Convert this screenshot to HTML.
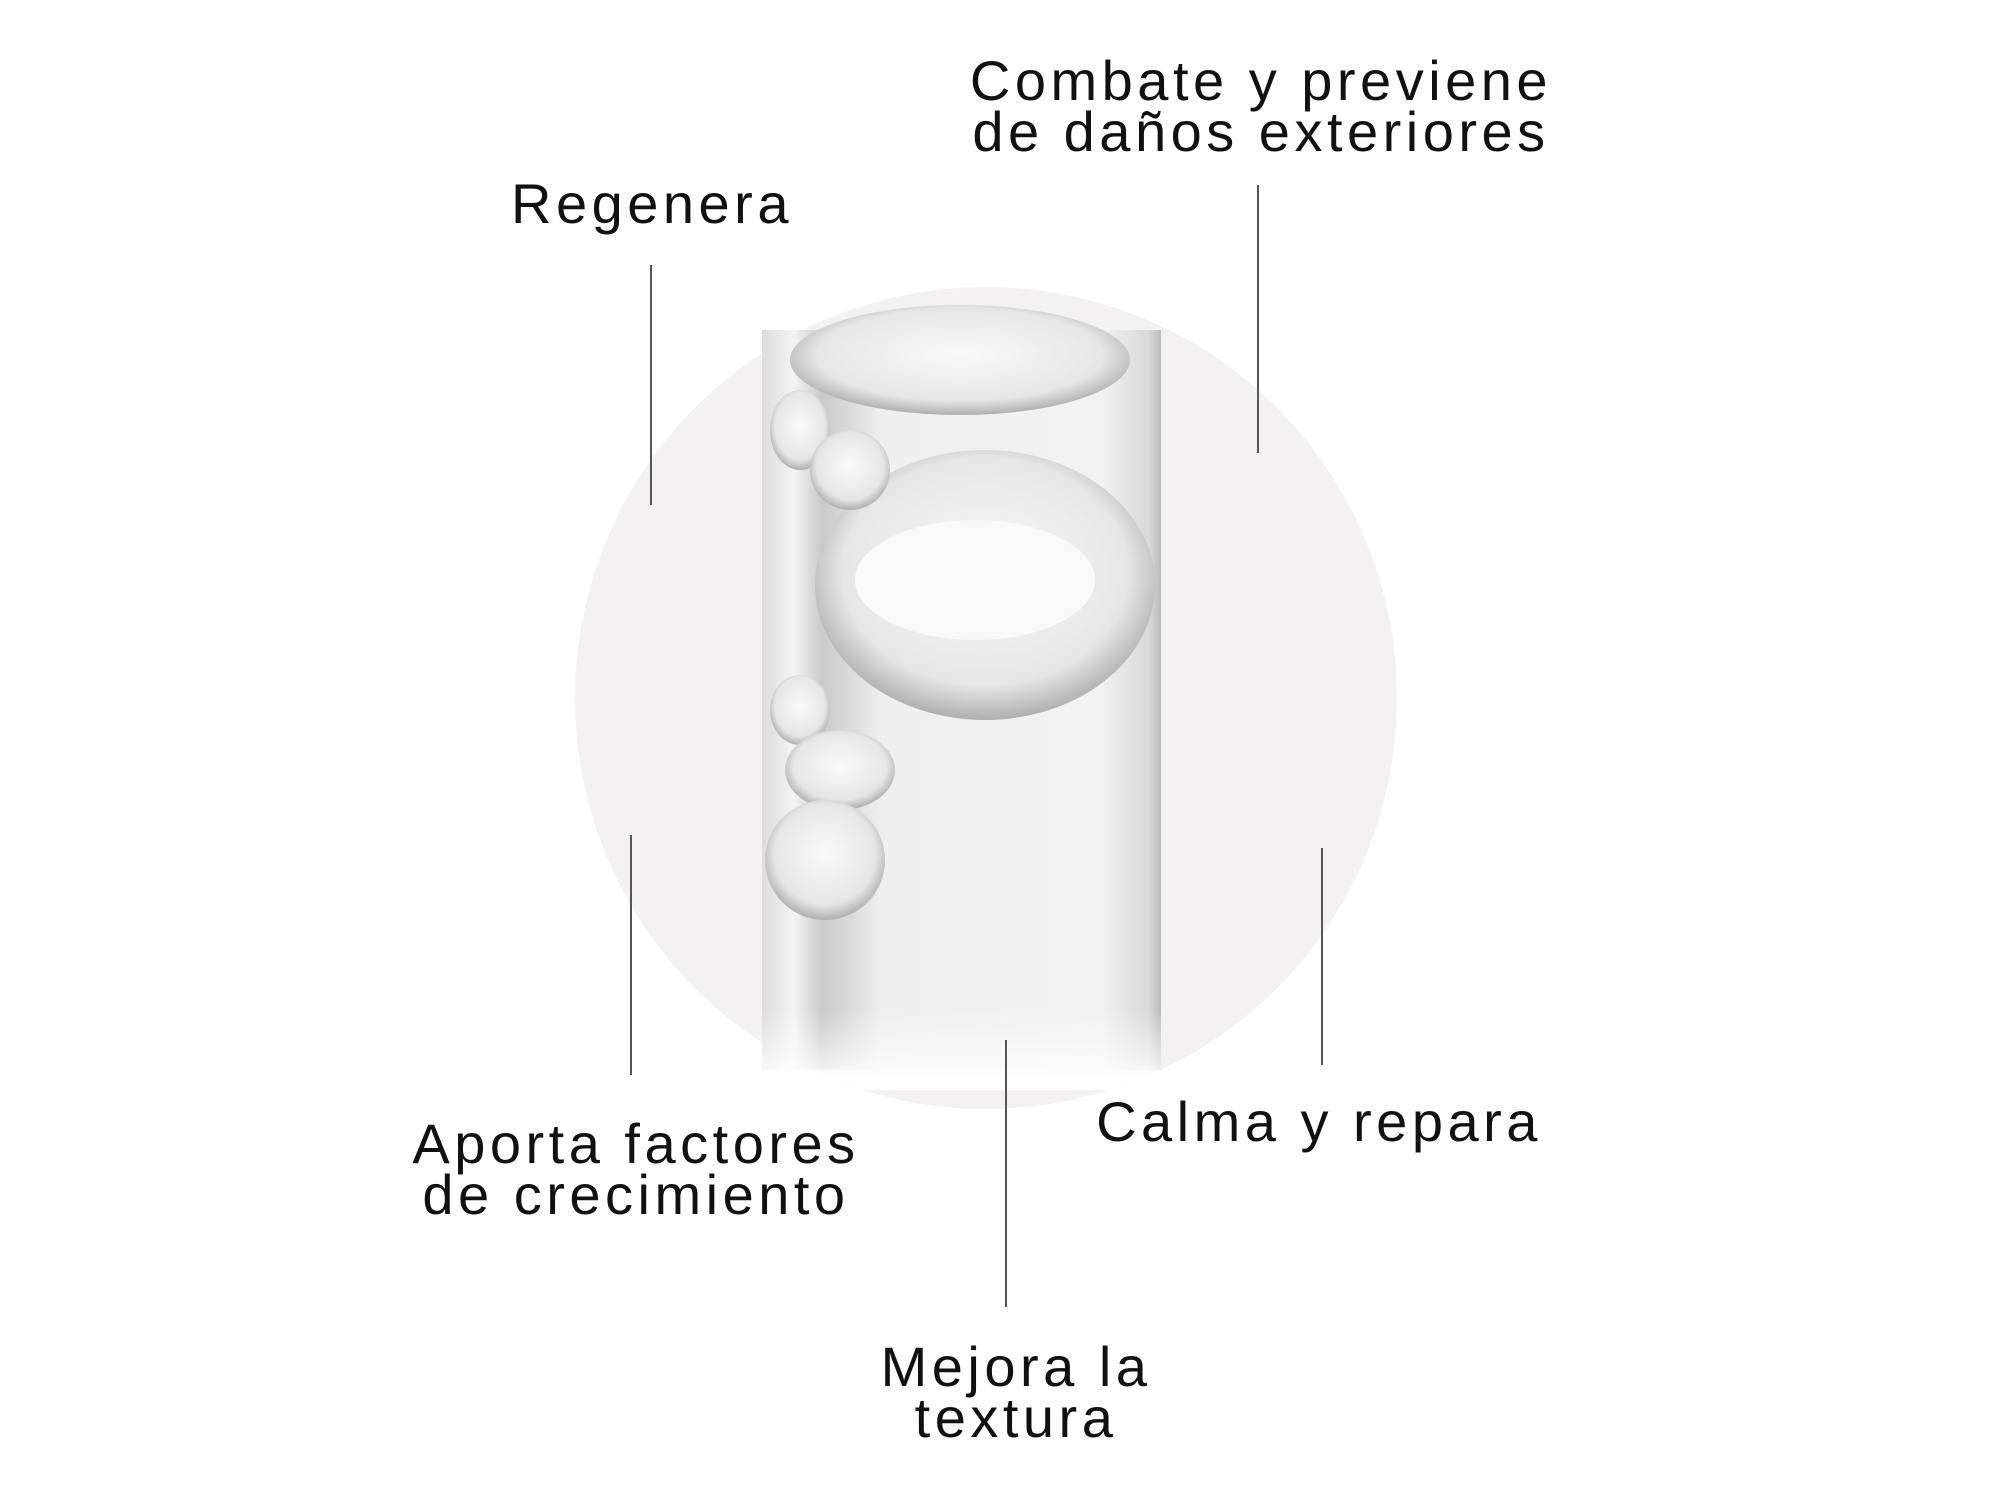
<!DOCTYPE html>
<html><head><meta charset="utf-8"><style>
html,body{margin:0;padding:0;background:#fff;}
body{width:2000px;height:1501px;position:relative;overflow:hidden;font-family:"Liberation Sans",sans-serif;color:#111;}
.t{position:absolute;font-size:56px;line-height:51px;text-align:center;white-space:nowrap;letter-spacing:4.5px;transform:translateX(-50%);}
.l{position:absolute;width:2px;background:#555;}
</style></head><body>
<svg width="2000" height="1501" style="position:absolute;left:0;top:0">
<defs>
<linearGradient id="tube" x1="0" x2="1" y1="0" y2="0">
<stop offset="0" stop-color="#dcdcdc"/><stop offset="0.08" stop-color="#f4f4f4"/>
<stop offset="0.15" stop-color="#c9c9c9"/><stop offset="0.3" stop-color="#efefef"/>
<stop offset="0.85" stop-color="#f2f2f2"/><stop offset="0.97" stop-color="#d8d8d8"/><stop offset="1" stop-color="#bbb"/>
</linearGradient>
<radialGradient id="bub" cx="0.5" cy="0.45" r="0.6">
<stop offset="0" stop-color="#fafafa"/><stop offset="0.7" stop-color="#e6e6e6"/><stop offset="1" stop-color="#9a9a9a"/>
</radialGradient>
<linearGradient id="fade" x1="0" x2="0" y1="0" y2="1">
<stop offset="0" stop-color="#fff" stop-opacity="0"/><stop offset="1" stop-color="#fff" stop-opacity="1"/>
</linearGradient>
</defs>
<circle cx="986" cy="698" r="411" fill="#f3f2f0"/>
<rect x="762" y="330" width="399" height="740" fill="url(#tube)"/>
<rect x="762" y="1010" width="399" height="80" fill="url(#fade)"/>
<ellipse cx="960" cy="360" rx="170" ry="55" fill="url(#bub)"/>
<ellipse cx="985" cy="585" rx="170" ry="135" fill="url(#bub)"/>
<ellipse cx="975" cy="580" rx="120" ry="60" fill="#f9f9f9"/>
<ellipse cx="800" cy="430" rx="30" ry="40" fill="url(#bub)"/>
<ellipse cx="850" cy="470" rx="40" ry="40" fill="url(#bub)"/>
<ellipse cx="800" cy="710" rx="30" ry="35" fill="url(#bub)"/>
<ellipse cx="840" cy="770" rx="55" ry="40" fill="url(#bub)"/>
<ellipse cx="825" cy="860" rx="60" ry="60" fill="url(#bub)"/>
</svg>
<div class="t" style="left:1261px;top:55px">Combate y previene<br>de daños exteriores</div>
<div class="t" style="left:652px;top:178px">Regenera</div>
<div class="t" style="left:636px;top:1118px">Aporta factores<br>de crecimiento</div>
<div class="t" style="left:1319px;top:1096px">Calma y repara</div>
<div class="t" style="left:1016px;top:1341px">Mejora la<br>textura</div>
<div class="l" style="left:650px;top:265px;height:240px"></div>
<div class="l" style="left:1257px;top:185px;height:268px"></div>
<div class="l" style="left:630px;top:835px;height:240px"></div>
<div class="l" style="left:1321px;top:848px;height:217px"></div>
<div class="l" style="left:1005px;top:1040px;height:267px"></div>
</body></html>
